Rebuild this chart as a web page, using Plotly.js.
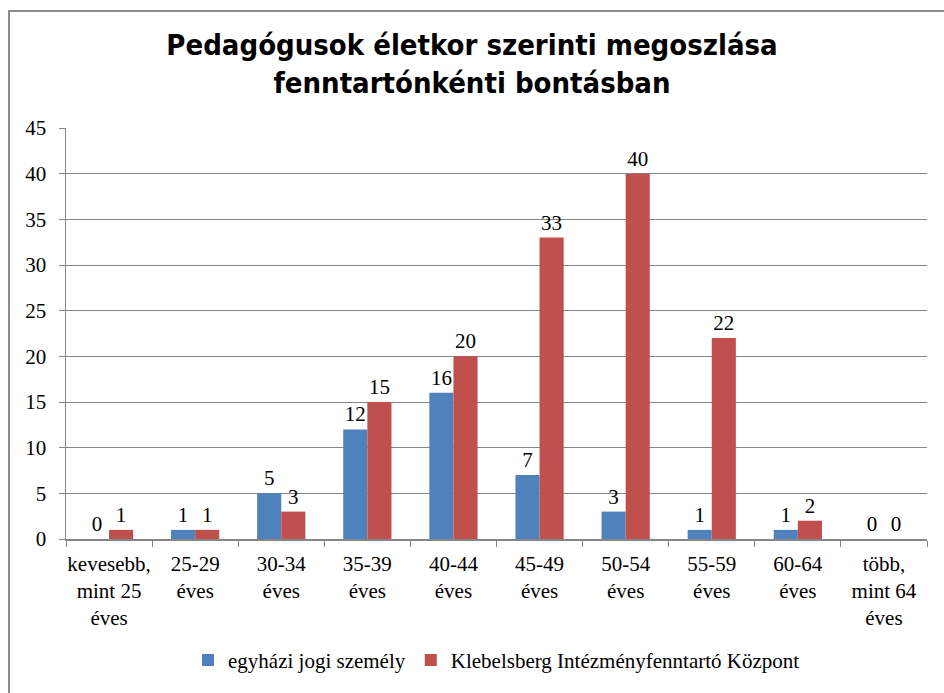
<!DOCTYPE html>
<html>
<head>
<meta charset="utf-8">
<script src="https://cdn.plot.ly/plotly-3.0.1.min.js"></script>
<style>
html,body{margin:0;padding:0;background:#fff;}
#wrap{position:relative;width:944px;height:693px;overflow:hidden;}
#frame{position:absolute;left:8px;top:10px;width:1000px;height:800px;border:2px solid #8c8c8c;box-sizing:border-box;pointer-events:none;z-index:5;}
#chart{position:absolute;left:0;top:0;width:944px;height:693px;}
</style>
</head>
<body>
<div id="wrap">
<div id="chart"></div>
<div id="frame"></div>
</div>
<script>
const categories = [
  "kevesebb,<br>mint 25<br>éves",
  "25-29<br>éves",
  "30-34<br>éves",
  "35-39<br>éves",
  "40-44<br>éves",
  "45-49<br>éves",
  "50-54<br>éves",
  "55-59<br>éves",
  "60-64<br>éves",
  "több,<br>mint 64<br>éves"
];
const seriesNames = ["egyházi jogi személy", "Klebelsberg Intézményfenntartó Központ"];
const egyhazi = [0, 1, 5, 12, 16, 7, 3, 1, 1, 0];
const klik = [1, 1, 3, 15, 20, 33, 40, 22, 2, 0];
const yTicks = [0, 5, 10, 15, 20, 25, 30, 35, 40, 45];
const titleText = "Pedagógusok életkor szerinti megoszlása<br>fenntartónkénti bontásban";

const SERIF = "Times New Roman, Liberation Serif, serif";
function lf() { return {family: SERIF, size: 21, color: "#000"}; }

const traces = [
  {type: "bar", name: seriesNames[0], x: categories, y: egyhazi,
   marker: {color: "#4F81BD"}, text: egyhazi.map(String), textposition: "outside",
   textfont: lf(), cliponaxis: false, hoverinfo: "none"},
  {type: "bar", name: seriesNames[1], x: categories, y: klik,
   marker: {color: "#C0504D"}, text: klik.map(String), textposition: "outside",
   textfont: lf(), cliponaxis: false, hoverinfo: "none"}
];

const layout = {
  width: 944, height: 693,
  margin: {l: 66, r: 17, t: 128, b: 152},
  paper_bgcolor: "#fff", plot_bgcolor: "#fff",
  title: {text: titleText, x: 0.5, xref: "container", xanchor: "center", y: 0.92, yanchor: "middle",
          font: {family: "DejaVu Sans Condensed", size: 29, color: "#000", weight: "bold"}},
  barmode: "group", bargap: 0.44, bargroupgap: 0,
  font: lf(),
  xaxis: {type: "category", tickson: "boundaries", ticks: "outside", ticklen: 6, tickcolor: "#868686",
          showline: true, linecolor: "#868686", linewidth: 1.5, showgrid: false, tickangle: 0,
          tickfont: lf(), automargin: false, ticklabelstandoff: 5},
  yaxis: {range: [0, 45], tickvals: yTicks, ticktext: yTicks.map(String), ticks: "outside", ticklen: 6,
          tickcolor: "#868686", showline: true, linecolor: "#868686", linewidth: 1.5,
          showgrid: true, gridcolor: "#868686", gridwidth: 1, zeroline: false,
          tickfont: lf(), automargin: false, ticklabelstandoff: 8},
  legend: {orientation: "h", x: 0.5, xanchor: "center", y: -0.295, yanchor: "middle",
           font: lf(), itemwidth: 30, traceorder: "normal"},
  showlegend: true
};

Plotly.newPlot("chart", traces, layout, {displayModeBar: false, staticPlot: true});
</script>
</body>
</html>
